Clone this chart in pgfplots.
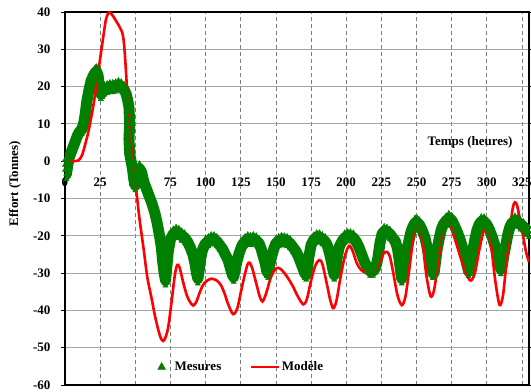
\documentclass[border=0pt]{standalone}
\usepackage{fontspec}
\setmainfont{Liberation Serif}
\usepackage{pgfplots}
\pgfplotsset{compat=1.18}
\usepackage{pgfplotstable}
\definecolor{mgreen}{RGB}{0,128,0}
\definecolor{gridh}{RGB}{165,165,165}
\definecolor{gridv}{RGB}{125,125,125}

\pgfplotstableread{
x y
0 -1
1 -3.5
2 -1
3 1
4.5 2.5
6 4
7.5 5.5
9 7
10.5 8
12 8.5
13.5 10.5
14.5 13
15.5 16
17 19
18.5 21.5
20 22.8
21.5 23.8
22.5 24
23.5 23
24.5 20
25.5 18
26.5 18.5
28 19.2
30 19.5
32 19.8
34 19.8
36 20
38 20.3
40 20
42 19.3
43.5 18
44.5 16.5
45.5 14.5
46 10
45.5 6
46 2
47 0
48 -2
49 -5
50 -6.5
51.5 -4
53 -2
54.5 -3
56 -5.5
58 -7.5
60 -9.5
62 -11.5
64 -14
65.5 -16.5
67 -19.5
68.5 -23
69.5 -27
70.5 -30
71.5 -32
72.5 -28
73.5 -24
75 -21
77 -19.5
79 -19
81 -19.3
83 -20
85 -20.5
87 -21.5
89 -23
91 -25
92.5 -27.5
93.5 -30
94.5 -31.5
95.5 -29
96.5 -26
98 -23.5
100 -22
102 -21.5
104 -21
106 -21
108 -21.5
110 -22.5
112 -23.5
114 -25
116 -26.5
117.5 -28.5
119 -30.5
120 -31
121 -29
122.5 -26.5
124 -24.5
126 -22.5
128 -21.5
130 -21
132 -21.2
134 -21
136 -21.3
138 -22
139.5 -23.5
141 -25.5
142.5 -27.5
143.5 -29.5
144.5 -30
145.5 -28
147 -25.5
148.5 -23.5
150 -22
152 -21.5
154 -21.2
156 -21.3
158 -21.5
160 -22
162 -23
164 -24
166 -25.5
167.5 -27
169 -28.5
170.5 -30
171.5 -30.5
172.5 -28.5
173.5 -25.5
175 -22.5
177 -21
179 -20.5
181 -20.5
183 -21
185 -21.5
186.5 -22.5
188 -24.5
189.5 -27
190.5 -29
191.5 -30.5
192.5 -29
193.5 -26
195 -23
197 -21.5
199 -20.5
201 -20.2
203 -20.2
205 -20.5
207 -21.5
209 -23
211 -25
213 -27
215 -28.5
217 -29.5
219 -29.5
221 -28.5
222.5 -26
224 -22
225.5 -19.5
227 -18.8
229 -19
231 -19.5
233 -20.5
235 -21.5
236.5 -23.5
237.5 -26
238.5 -29
239.5 -31.5
240.5 -30
241.5 -27
243 -24
244.5 -21.5
246 -19
247.5 -17.5
249 -16.5
250.5 -16.5
252 -17
254 -18.5
256 -20.5
257.5 -23
259 -25.5
260.5 -28
261.5 -30
262.5 -30
263.5 -27
264.5 -24
266 -21
267.5 -18.5
269 -17
271 -16
273 -15.3
275 -15.8
277 -17.3
279 -19
281 -21
283 -23.5
284.5 -25.5
286 -28
287 -29.5
288 -29
289 -26.5
290 -24
291.5 -21
293 -18.5
294.5 -17
296 -16.2
298 -16.2
300 -17
302 -18.5
304 -20.5
306 -23
307.5 -25.5
309 -28
310 -29
311 -28
312 -25.5
313.5 -22.5
315 -19.5
316.5 -17.5
318 -16.5
320 -16
322 -16.3
324 -17
326 -17.5
328 -18.5
330 -19
}\mesures

\pgfplotstableread{
x y
0 0
5 0
9.5 0.2
12 1.5
14 4
16.7 8
18.5 11.5
20.2 15
22.6 21
25 27.5
27.4 33.8
29 37.8
30.5 39.5
31.7 39.9
33 39.5
34.5 38.7
36.5 37.5
38.1 36.5
40.5 34.7
41.5 33
42.3 30
43.3 24.5
44.3 18
45.3 12.5
46.4 6.5
47.5 1.5
48.5 -2
49.5 -5.5
51 -9
53 -15.5
55.9 -23.5
58.5 -31
61.7 -37
64 -41.5
66.4 -45.3
68.2 -47.5
69.9 -48.2
71.5 -47.2
73.4 -44.5
75.8 -37.7
78.1 -30.6
79.8 -27.8
81.5 -28.5
84 -32.4
86.5 -35.8
88.7 -37.6
91.2 -38.7
93.5 -37.6
95.7 -35.3
98 -33.3
100.4 -32.2
104 -31.5
108 -32
111 -33.3
113.5 -35.5
116 -38.3
119.5 -41
122.5 -39.5
125 -35.2
127.5 -31
129.7 -27.8
131.2 -27.2
133 -28.5
135.5 -32
138.5 -36.3
140.5 -37.6
143 -35.5
146.5 -31
149.5 -29
151.9 -28.6
154.5 -29.3
158 -31
162 -33.5
165.5 -36.2
169.5 -38.4
172 -37
175 -32
178 -28
180.8 -26.5
183 -27.5
186 -32.5
188.5 -37
190.7 -39.4
193 -37.5
196 -31
199 -25.5
202 -22.7
204.5 -24
207.5 -27.3
211 -29.3
216.6 -30.1
220 -29.6
223.5 -27.5
226.5 -24.8
228.9 -24.3
231 -25.5
233.5 -30
236.5 -36
239.5 -38.6
242 -36.5
244.5 -30
247 -22.5
249 -17.8
250.8 -16.7
252.5 -18
254.5 -22.5
257 -30.5
260 -36.2
262.5 -34.5
265 -28
267.5 -21
270 -16.5
272 -15.8
274 -16.8
277 -20.5
281.6 -26.1
285 -30
288.5 -32
291.5 -30
294.5 -24
297.5 -19
299.5 -18
301.5 -19.5
303.5 -24
306 -32
309 -38.5
311.5 -36
314 -27
316.5 -18
318.5 -12.5
320 -11
321.5 -11.8
323.5 -15.5
326 -20.5
328 -24.5
330 -27
}\modele

\begin{document}
\begin{tikzpicture}
\begin{axis}[name=ax, scale only axis, width=464pt, height=373pt,
  xmin=0, xmax=330, ymin=-60, ymax=40,
  xtick={0,25,...,325}, ytick={-60,-50,...,40},
  /pgf/number format/assume math mode=true,
  font=\fontsize{13}{15}\selectfont\bfseries,
  ticklabel style={font=\fontsize{13}{15}\selectfont\bfseries},
  xticklabel style={anchor=center, yshift=206.8pt},
  yticklabel style={xshift=-7pt},
  xtick style={draw=none},
  ytick style={black, line width=0.8pt},
  tick align=outside, major tick length=4pt,
  grid=major,
  x grid style={gridv, dash pattern=on 4pt off 3pt, line width=0.7pt},
  y grid style={gridh, line width=1pt},
  axis line style={black, line width=1.6pt},
  xlabel={Temps (heures)},
  xlabel style={at={(axis description cs:0.873,0.651)}, anchor=center},
  ylabel={Effort (Tonnes)},
  ylabel style={at={(axis description cs:-0.108,0.54)}, anchor=center},
  legend style={draw=none, fill=none, at={(axis description cs:0.379,0.048)}, anchor=center,
    legend columns=2, font=\fontsize{13}{15}\selectfont\bfseries,
    /tikz/every even column/.append style={column sep=26pt}},
]
\addlegendimage{legend image code/.code={\path plot[mark=triangle*, mark size=4.5pt, mark options={draw=mgreen, fill=mgreen}] coordinates {(0pt,0pt)}; \path[draw=none, fill=none] (-5pt,-2pt) rectangle (11pt,2pt);}}
\addlegendentry{Mesures}
\addlegendimage{legend image code/.code={\draw[red, line width=2.6pt] (0pt,0pt) -- (28pt,0pt);}}
\addlegendentry{Modèle}
\addplot[mgreen, line width=11pt, line join=round, line cap=round, forget plot] table {\mesures};
\addplot[only marks, mark=triangle*, mark size=3pt, mgreen, forget plot] table {\mesures};
\addplot[only marks, mark=triangle*, mark size=3pt, mgreen, forget plot, every mark/.append style={yshift=5pt}] table {\mesures};
\addplot[only marks, mark=triangle*, mark size=3pt, mgreen, forget plot, every mark/.append style={yshift=-5pt}] table {\mesures};
\addplot[red, line width=2.6pt, smooth, forget plot] table {\modele};
\end{axis}
\pgfresetboundingbox
\path ([shift={(-65pt,-6pt)}]ax.south west) rectangle ([shift={(2pt,12pt)}]ax.north east);
\end{tikzpicture}
\end{document}
